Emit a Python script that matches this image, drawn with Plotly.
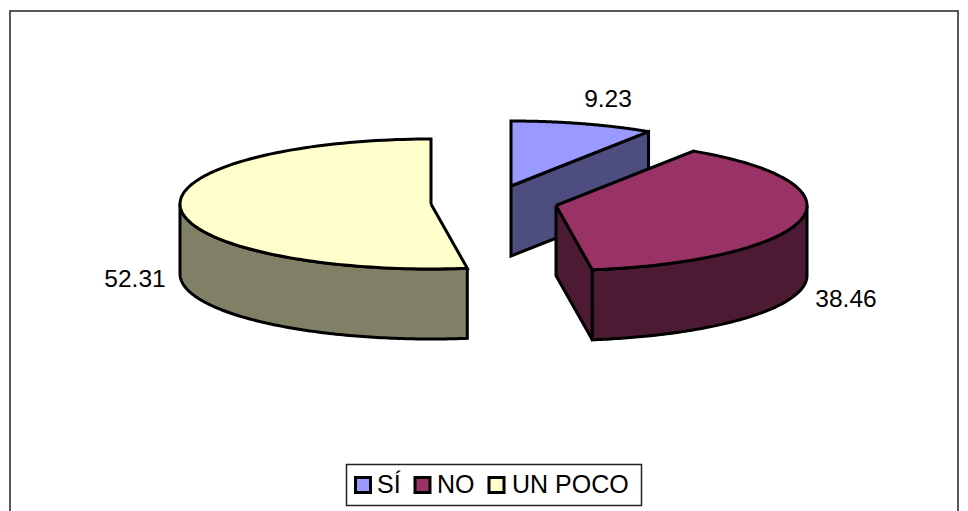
import numpy as np
import plotly.graph_objects as go

categories = ["SÍ", "NO", "UN POCO"]
values = [9.23, 38.46, 52.31]
top_colors = ["#9999FF", "#993366", "#FFFFCC"]
side_colors = ["#4D4D80", "#4D1A33", "#808066"]

# drawing set-up, in the pixel space of the hidden axes
centers = [(511, 186), (556, 205.5), (431, 204)]
label_pos = [(608, 101), (846, 301), (135, 281)]
key_x = [363, 422.5, 496.5]
key_text_x = [377, 437, 512]
KEY_Y = 485
KEY_TEXT_Y = 487
RX, RY, DEPTH = 251, 65, 70
LW = 3
FONT = "Liberation Sans, Arial, sans-serif"


def arc(c, a0, a1, dy=0):
    t = np.radians(np.linspace(a0, a1, 120))
    return c[0] + RX * np.sin(t), c[1] - RY * np.cos(t) + dy


fig = go.Figure()


def poly(x, y, color):
    fig.add_trace(go.Scatter(
        x=list(x) + [x[0]], y=list(y) + [y[0]], mode="lines", fill="toself",
        fillcolor=color, line=dict(color="black", width=LW, simplify=False),
        hoverinfo="skip", showlegend=False))


edges = np.cumsum([0] + values) * 3.6
spans = [(edges[i], edges[i + 1]) for i in range(3)]

# SÍ: cut wall along its clockwise edge, then top
c, (a0, a1) = centers[0], spans[0]
ex, ey = arc(c, a1, a1)
poly([c[0], ex[0], ex[0], c[0]], [c[1], ey[0], ey[0] + DEPTH, c[1] + DEPTH], side_colors[0])
ax, ay = arc(c, a0, a1)
poly([c[0], *ax], [c[1], *ay], top_colors[0])

# NO: cut wall, outer wall, top
c, (a0, a1) = centers[1], spans[1]
ex, ey = arc(c, a1, a1)
poly([c[0], ex[0], ex[0], c[0]], [c[1], ey[0], ey[0] + DEPTH, c[1] + DEPTH], side_colors[1])
ax, ay = arc(c, 90, a1)
poly([*ax, *ax[::-1]], [*ay, *(ay[::-1] + DEPTH)], side_colors[1])
ax, ay = arc(c, a0, a1)
poly([c[0], *ax], [c[1], *ay], top_colors[1])

# UN POCO: outer wall, top
c, (a0, a1) = centers[2], spans[2]
ax, ay = arc(c, a0, 270)
poly([*ax, *ax[::-1]], [*ay, *(ay[::-1] + DEPTH)], side_colors[2])
ax, ay = arc(c, a0, a1)
poly([c[0], *ax], [c[1], *ay], top_colors[2])

# value labels
fig.add_trace(go.Scatter(
    x=[p[0] for p in label_pos], y=[p[1] for p in label_pos], mode="text",
    text=[f"{v:.2f}" for v in values], textposition="middle center",
    textfont=dict(family=FONT, size=24.5, color="black"),
    hoverinfo="skip", showlegend=False))

# legend keys and names
fig.add_trace(go.Scatter(
    x=key_x, y=[KEY_Y] * 3, mode="markers",
    marker=dict(symbol="square", size=15, color=top_colors,
                line=dict(color="black", width=3)),
    hoverinfo="skip", showlegend=False))
fig.add_trace(go.Scatter(
    x=key_text_x, y=[KEY_TEXT_Y] * 3, mode="text", text=categories,
    textposition="middle right",
    textfont=dict(family=FONT, size=25, color="black"),
    hoverinfo="skip", showlegend=False))

fig.update_xaxes(range=[0, 968], visible=False, fixedrange=True)
fig.update_yaxes(range=[511, 0], visible=False, fixedrange=True)
fig.update_layout(
    width=968, height=511, autosize=False,
    margin=dict(l=0, r=0, t=0, b=0),
    paper_bgcolor="white", plot_bgcolor="white",
    font=dict(family=FONT, size=24, color="black"),
    showlegend=False,
    shapes=[
        dict(type="rect", xref="x", yref="y", x0=10, x1=958, y0=11, y1=530,
             line=dict(color="#222222", width=1.5), layer="below"),
        dict(type="rect", xref="x", yref="y", x0=346.5, x1=641.5, y0=464.5, y1=505.5,
             line=dict(color="#222222", width=1.5), fillcolor="white", layer="below"),
    ],
)
fig.write_html("out.html", config={"displayModeBar": False},
               post_script="document.body.style.margin='0';document.body.style.overflow='hidden';")
